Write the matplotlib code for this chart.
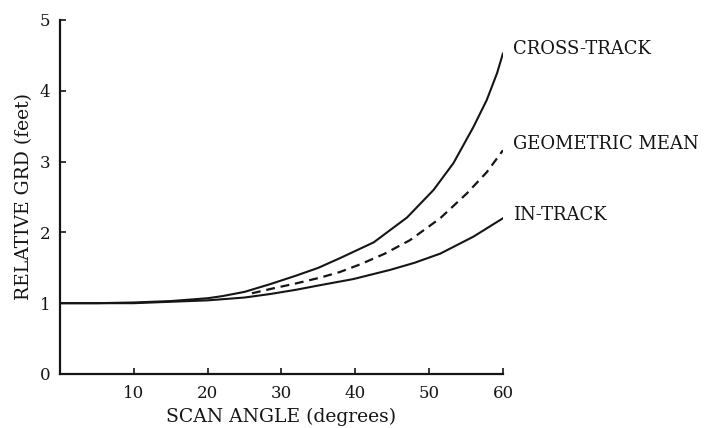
import matplotlib
matplotlib.use("Agg")
import matplotlib.pyplot as plt

# Data
cross_angle = [0, 5, 10, 15, 20, 22, 25, 28.5, 32, 35, 38, 42.5, 47, 50.6, 53.3, 56, 57.8, 59.2, 60]
cross_track = [1.0, 1.0, 1.01, 1.03, 1.07, 1.10, 1.16, 1.27, 1.39, 1.50, 1.64, 1.86, 2.21, 2.60, 2.98, 3.49, 3.87, 4.25, 4.53]

in_angle = [0, 5, 10, 15, 20, 25, 28.5, 32, 35, 39.7, 44.7, 48, 51.5, 56, 60]
in_track = [1.0, 1.0, 1.0, 1.02, 1.04, 1.08, 1.13, 1.19, 1.25, 1.34, 1.47, 1.57, 1.70, 1.94, 2.20]

gm_angle = [26, 28.9, 32, 35.2, 37.9, 40.7, 44, 47.4, 51.5, 55.1, 57.8, 60]
geometric_mean = [1.14, 1.21, 1.28, 1.36, 1.44, 1.55, 1.70, 1.89, 2.20, 2.55, 2.85, 3.16]

x_ticks = [10, 20, 30, 40, 50, 60]
y_ticks = [0, 1, 2, 3, 4, 5]

plt.rcParams['font.family'] = ['DejaVu Serif']

fig = plt.figure(figsize=(7.2, 4.28), dpi=100)
ax = fig.add_axes([0.0833, 0.1262, 0.6153, 0.8271])

ink = '#151515'
ax.plot(cross_angle, cross_track, color=ink, lw=1.5, solid_capstyle='round', solid_joinstyle='round')
ax.plot(in_angle, in_track, color=ink, lw=1.5, solid_capstyle='round', solid_joinstyle='round')
ax.plot(gm_angle, geometric_mean, color=ink, lw=1.6, linestyle=(0, (4, 2.6)))

ax.set_xlim(0, 60)
ax.set_ylim(0, 5)
ax.set_xticks(x_ticks)
ax.set_yticks(y_ticks)
for s in ('top', 'right'):
    ax.spines[s].set_visible(False)
for s in ('left', 'bottom'):
    ax.spines[s].set_linewidth(1.6)
    ax.spines[s].set_color(ink)
ax.tick_params(axis='both', direction='in', length=4, width=1.2, colors=ink,
               labelsize=12, labelcolor=ink)
ax.tick_params(axis='x', pad=8)
ax.tick_params(axis='y', pad=7)

ax.set_xlabel('SCAN ANGLE (degrees)', fontsize=13.5, color=ink, labelpad=4)
ax.set_ylabel('RELATIVE GRD (feet)', fontsize=13.5, color=ink, labelpad=5)

labels = [('CROSS-TRACK', cross_track[-1], 3),
          ('GEOMETRIC MEAN', geometric_mean[-1], 4.3),
          ('IN-TRACK', in_track[-1], 2.2)]
for txt, yv, dy in labels:
    ax.annotate(txt, xy=(60, yv), xytext=(7, dy), textcoords='offset points',
                ha='left', va='center', fontsize=13, color=ink, annotation_clip=False)

fig.savefig('out.png', dpi=100)
